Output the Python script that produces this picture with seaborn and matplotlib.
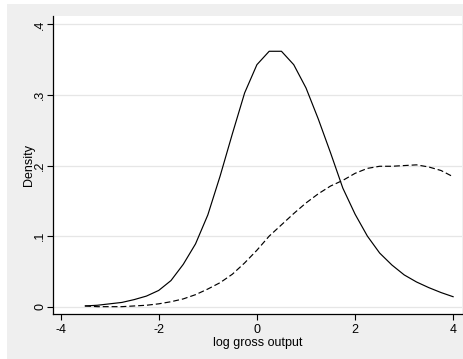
import numpy as np
import pandas as pd
import matplotlib
matplotlib.use("Agg")
import matplotlib.pyplot as plt
import seaborn as sns
from matplotlib.patches import Rectangle

# ---- data ----
x_grid = [-3.5, -3.25, -3.0, -2.75, -2.5, -2.25, -2.0, -1.75, -1.5, -1.25,
          -1.0, -0.75, -0.5, -0.25, 0.0, 0.25, 0.5, 0.75, 1.0, 1.25,
          1.5, 1.75, 2.0, 2.25, 2.5, 2.75, 3.0, 3.25, 3.5, 3.75, 4.0]
density_solid = [0.001, 0.002, 0.004, 0.006, 0.010, 0.015, 0.023, 0.037, 0.060, 0.089,
                 0.130, 0.185, 0.245, 0.303, 0.343, 0.362, 0.362, 0.343, 0.310, 0.266,
                 0.218, 0.168, 0.131, 0.100, 0.076, 0.059, 0.045, 0.035, 0.027, 0.020, 0.014]
density_dashed = [0.001, 0.000, 0.000, 0.000, 0.001, 0.002, 0.004, 0.007, 0.011, 0.017,
                  0.025, 0.034, 0.046, 0.062, 0.080, 0.100, 0.116, 0.132, 0.147, 0.160,
                  0.171, 0.179, 0.189, 0.196, 0.199, 0.199, 0.200, 0.201, 0.198, 0.193, 0.184]
x_ticks = [-4, -2, 0, 2, 4]
x_tick_labels = ["-4", "-2", "0", "2", "4"]
y_ticks = [0, 0.1, 0.2, 0.3, 0.4]
y_tick_labels = ["0", ".1", ".2", ".3", ".4"]
x_label = "log gross output"
y_label = "Density"

df = pd.DataFrame({
    "x": x_grid * 2,
    "density": density_solid + density_dashed,
    "group": ["a"] * len(x_grid) + ["b"] * len(x_grid),
})

sns.set_theme(style="white")
plt.rcParams["font.family"] = ["Liberation Sans", "DejaVu Sans"]

fig = plt.figure(figsize=(4.64, 3.59), dpi=100)
fig.patch.set_facecolor("white")
W, H = 464, 359
bg = Rectangle((7 / W, 0), 1 - 7 / W, (H - 4) / H,
               transform=fig.transFigure, facecolor="#efefef",
               edgecolor="none", zorder=-10)
fig.add_artist(bg)

ax = fig.add_axes([53 / W, (H - 314) / H, (462 - 53) / W, (314 - 16) / H])
ax.set_zorder(1)
ax.set_facecolor("white")

sns.lineplot(data=df, x="x", y="density", style="group", color="black",
             dashes={"a": "", "b": (5, 2.5)}, linewidth=0.85,
             estimator=None, sort=True, legend=False, ax=ax)

ax.set_xlim(-4.153, 4.177)
ax.set_ylim(-0.0104, 0.412)
ax.set_xticks(x_ticks)
ax.set_xticklabels(x_tick_labels, fontsize=9)
ax.set_yticks(y_ticks)
ax.set_yticklabels(y_tick_labels, fontsize=9, rotation=90, va="center")
for yt in y_ticks:
    ax.axhline(yt, color="#e6e6e6", linewidth=0.9, zorder=0)

for s in ["top", "right"]:
    ax.spines[s].set_visible(False)
for s in ["left", "bottom"]:
    ax.spines[s].set_color("black")
    ax.spines[s].set_linewidth(0.9)

ax.tick_params(axis="both", which="major", length=4, width=0.8, color="black",
               labelcolor="black", direction="out")
ax.tick_params(axis="x", bottom=True, pad=3)
ax.tick_params(axis="y", left=True, pad=1)

ax.set_xlabel(x_label, fontsize=9, color="black", labelpad=1)
ax.set_ylabel(y_label, fontsize=9, color="black", labelpad=-1)

fig.savefig("out.png", dpi=100, facecolor=fig.get_facecolor())
